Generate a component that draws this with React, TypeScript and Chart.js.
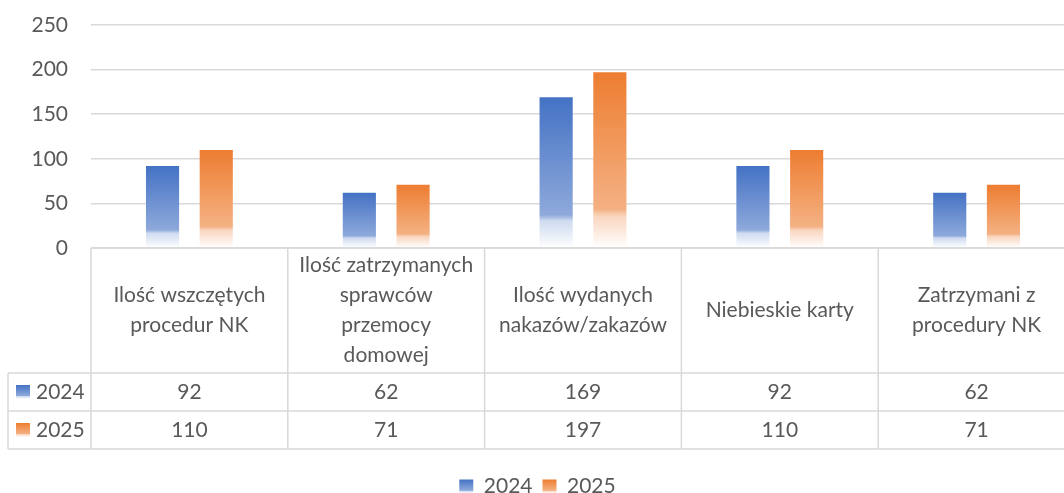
import React, { useEffect, useRef } from "react";
import { Chart, registerables } from "chart.js";

Chart.register(...registerables);

const categories: string[][] = [
  ["Ilość wszczętych", "procedur NK"],
  ["Ilość zatrzymanych", "sprawców", "przemocy", "domowej"],
  ["Ilość wydanych", "nakazów/zakazów"],
  ["Niebieskie karty"],
  ["Zatrzymani z", "procedury NK"],
];
const seriesNames = ["2024", "2025"];
const values2024 = [92, 62, 169, 92, 62];
const values2025 = [110, 71, 197, 110, 71];
const yTicks = [0, 50, 100, 150, 200, 250];

const FONT = "Lato, 'Open Sans', sans-serif";
const TEXT = "#595959";
const GRID = "#D9D9D9";
const FS = 21;

const palettes = [
  { stops: ["#4472C4", "#8EA9DB", "#CFDBF0", "#FFFFFF"], solid: "#4472C4" },
  { stops: ["#ED7D31", "#F4B183", "#F9D6BF", "#FFFFFF"], solid: "#ED7D31" },
];

function makeGradient(ctx: CanvasRenderingContext2D, top: number, bottom: number, p: number) {
  const g = ctx.createLinearGradient(0, top, 0, bottom);
  const s = palettes[p].stops;
  g.addColorStop(0, s[0]);
  g.addColorStop(0.78, s[1]);
  g.addColorStop(0.82, s[2]);
  g.addColorStop(1, s[3]);
  return g;
}

const W = 1075;
const H = 507;
const HEADER_H = 125;
const ROW_H = 38;
const TABLE_LEFT = 8;

const tablePlugin = {
  id: "dataTable",
  beforeDraw(chart: any) {
    const legend = chart.legend;
    if (legend && legend.legendItems && legend.legendHitBoxes) {
      legend.legendItems.forEach((item: any, i: number) => {
        const hb = legend.legendHitBoxes[i];
        if (!hb) return;
        const bh = 14;
        const top = hb.top + (hb.height - bh) / 2;
        item.fillStyle = makeGradient(chart.ctx, top, top + bh, item.datasetIndex);
      });
    }
  },
  afterDraw(chart: any) {
    const ctx: CanvasRenderingContext2D = chart.ctx;
    const area = chart.chartArea;
    const n = chart.data.labels.length;
    const colW = (area.right - area.left) / n;
    const top = area.bottom;
    const rowTop = top + HEADER_H;
    const bottom = rowTop + ROW_H * seriesNames.length;
    ctx.save();
    ctx.strokeStyle = GRID;
    ctx.lineWidth = 1.5;
    ctx.beginPath();
    ctx.moveTo(area.left, top);
    ctx.lineTo(area.right, top);
    for (let r = 0; r <= seriesNames.length; r++) {
      const y = rowTop + r * ROW_H;
      ctx.moveTo(TABLE_LEFT, y);
      ctx.lineTo(area.right, y);
    }
    for (let c = 0; c <= n; c++) {
      const x = area.left + c * colW;
      ctx.moveTo(x, top);
      ctx.lineTo(x, bottom);
    }
    ctx.moveTo(TABLE_LEFT, rowTop);
    ctx.lineTo(TABLE_LEFT, bottom);
    ctx.stroke();

    ctx.fillStyle = TEXT;
    ctx.font = `${FS}px ${FONT}`;
    ctx.textAlign = "center";
    ctx.textBaseline = "middle";
    const lineH = 30;
    chart.data.labels.forEach((lbl: string[], i: number) => {
      const cx = area.left + (i + 0.5) * colW;
      const cy = top + HEADER_H / 2;
      const startY = cy - ((lbl.length - 1) * lineH) / 2;
      lbl.forEach((line, j) => ctx.fillText(line, cx, startY + j * lineH));
    });
    chart.data.datasets.forEach((ds: any, r: number) => {
      const cy = rowTop + r * ROW_H + ROW_H / 2;
      ds.data.forEach((v: number, i: number) => {
        const cx = area.left + (i + 0.5) * colW;
        ctx.fillStyle = TEXT;
        ctx.fillText(String(v), cx, cy);
      });
      const kx = 16;
      const ks = 14;
      ctx.fillStyle = makeGradient(ctx, cy - ks / 2, cy + ks / 2, r);
      ctx.fillRect(kx, cy - ks / 2, ks, ks);
      ctx.fillStyle = TEXT;
      ctx.textAlign = "left";
      ctx.fillText(ds.label, 36, cy);
      ctx.textAlign = "center";
    });
    ctx.restore();
  },
};

export default function App() {
  const ref = useRef<HTMLCanvasElement>(null);
  useEffect(() => {
    document.body.style.margin = "0";
    document.body.style.overflow = "hidden";
    if (!ref.current) return;
    const barBg = (p: number) => (c: any) => {
      const chart = c.chart;
      if (!chart.chartArea || c.raw === undefined) return palettes[p].solid;
      const y = chart.scales.y.getPixelForValue(c.raw);
      const b = chart.scales.y.getPixelForValue(0);
      return makeGradient(chart.ctx, y, b, p);
    };
    const chart = new Chart(ref.current, {
      type: "bar",
      data: {
        labels: categories as any,
        datasets: [
          { label: seriesNames[0], data: values2024, backgroundColor: barBg(0) },
          { label: seriesNames[1], data: values2025, backgroundColor: barBg(1) },
        ],
      },
      options: {
        animation: false,
        responsive: false,
        devicePixelRatio: 1,
        layout: { padding: { top: 25, left: 0, right: 0, bottom: 0 } },
        datasets: { bar: { categoryPercentage: 0.546, barPercentage: 0.617 } },
        scales: {
          x: {
            grid: { display: false },
            border: { display: false },
            ticks: { display: false },
            afterFit: (s: any) => {
              s.height = HEADER_H + ROW_H * 2 + 17;
            },
          },
          y: {
            min: 0,
            max: 250,
            afterBuildTicks: (s: any) => {
              s.ticks = yTicks.map((v) => ({ value: v }));
            },
            grid: { color: GRID, lineWidth: 1.5, drawTicks: false, tickLength: 0 },
            border: { display: false },
            ticks: { font: { size: FS, family: FONT }, color: TEXT, padding: 23 },
            afterFit: (s: any) => {
              s.width = 91;
              s.paddingTop = 0;
              s.paddingBottom = 0;
            },
          },
        },
        plugins: {
          tooltip: { enabled: false },
          legend: {
            position: "bottom",
            labels: {
              font: { size: FS, family: FONT },
              color: TEXT,
              boxWidth: 14,
              boxHeight: 14,
              padding: 10,
              generateLabels: (chart: any) =>
                chart.data.datasets.map((ds: any, i: number) => ({
                  text: ds.label,
                  fillStyle: palettes[i].solid,
                  strokeStyle: "rgba(0,0,0,0)",
                  lineWidth: 0,
                  fontColor: TEXT,
                  hidden: false,
                  datasetIndex: i,
                })),
            },
          },
        },
      },
      plugins: [tablePlugin],
    });
    return () => chart.destroy();
  }, []);
  return (
    <div style={{ width: 1064, height: 493, overflow: "hidden", position: "relative", background: "#fff" }}>
      <canvas ref={ref} width={W} height={H} style={{ display: "block", width: W, height: H }} />
    </div>
  );
}
